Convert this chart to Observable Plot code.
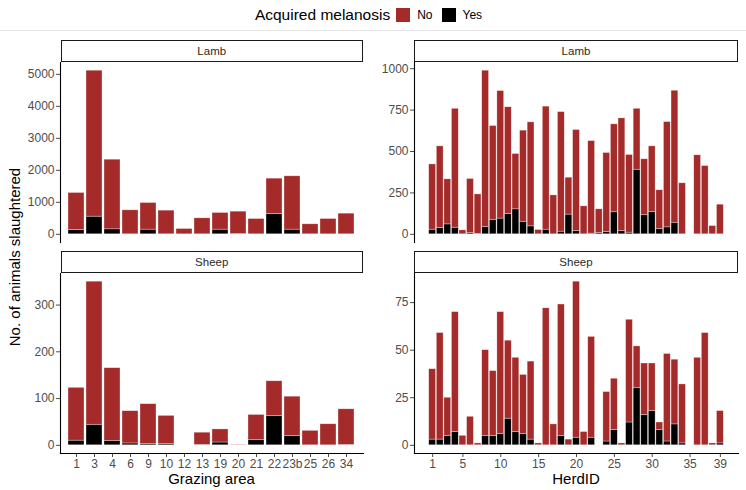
<!DOCTYPE html>
<html><head><meta charset="utf-8">
<script src="https://cdn.jsdelivr.net/npm/d3@7"></script>
<script src="https://cdn.jsdelivr.net/npm/@observablehq/plot@0.6"></script>
<style>
body{margin:0;background:#fff;font-family:"Liberation Sans",Arial,Helvetica,sans-serif;}
#wrap{position:relative;width:746px;height:490px;overflow:hidden;background:#fff;}
.strip{position:absolute;box-sizing:border-box;border:1.3px solid #1a1a1a;background:#fff;font-size:11.5px;font-weight:400;color:#2a2a2a;display:flex;align-items:center;justify-content:center;}
#legend{position:absolute;left:0;top:0;width:746px;height:30px;border-bottom:1px solid #e4e4e4;display:flex;align-items:center;justify-content:center;}
#legend .title{font-size:15.5px;color:#000;margin-right:6px;}
#legend .sw{width:14px;height:14px;display:inline-block;margin-right:7px;}
#legend .lab{font-size:12px;color:#000;margin-right:9px;}
.xtitle{position:absolute;font-size:15px;color:#000;line-height:1;text-align:center;}
#ytitle{position:absolute;font-size:15px;color:#000;line-height:1;white-space:nowrap;transform:translate(-50%,-50%) rotate(-90deg);left:14px;top:257px;}
</style></head>
<body>
<div id="wrap">
  <div id="legend"><span class="title">Acquired melanosis</span><span class="sw" style="background:#A52A2A"></span><span class="lab">No</span><span class="sw" style="background:#000"></span><span class="lab">Yes</span></div>
  <div id="ytitle">No. of animals slaughtered</div>
</div>
<script>
// ---- data ----
const grazingAreas = ["1","3","4","6","9","10","12","13","19","20","21","22","23b","25","26","34"];
const lambGrazingNo  = [1157,4563,2177,750,833,740,167,500,521,700,479,1105,1667,313,479,646];
const lambGrazingYes = [135,552,156,0,146,0,0,0,146,8,0,635,146,0,0,0];
const sheepGrazingNo  = [113,306,156,69,85,60,0,26,28,1,54,74,84,31,45,76];
const sheepGrazingYes = [10,44,9,4,3,3,0,1,6,0,11,63,20,0,0,1];

const herdIds = d3.range(1, 40);
const lambHerdNo  = [394,493,272,718,24,326,238,944,566,770,644,334,550,628,26,743,235,722,223,610,169,559,143,477,531,680,469,368,338,396,234,636,797,308,0,477,412,50,179];
const lambHerdYes = [28,38,60,40,0,8,3,44,88,95,123,151,76,48,0,28,0,16,119,20,0,4,8,14,133,20,10,390,115,135,32,42,70,0,0,0,0,0,0];
const sheepHerdNo  = [37,56,20,63,5,15,1,45,34,64,41,39,31,41,1,72,11,69,3,82,7,53,0,26,27,1,54,22,27,25,4,46,34,31,0,46,59,1,17];
const sheepHerdYes = [3,3,5,7,0,0,0,5,5,6,14,7,6,3,0,0,0,5,0,4,0,4,0,2,8,0,12,30,16,18,8,2,11,1,0,0,0,0,1];

const lambTicksLeft = [0,1000,2000,3000,4000,5000];
const sheepTicksLeft = [0,100,200,300];
const lambTicksRight = [0,250,500,750,1000];
const sheepTicksRight = [0,25,50,75];
const herdTicks = [1,5,10,15,20,25,30,35,39];

const statusDomain = ["No","Yes"];
const statusColors = ["#A52A2A","#000000"];

// ---- helpers ----
function rows(keys, yes, no) {
  const out = [];
  keys.forEach((k, i) => {
    out.push({k, status: "Yes", n: yes[i]});
    out.push({k, status: "No", n: no[i]});
  });
  return out;
}
function totalsMax(yes, no) { return d3.max(yes.map((v, i) => v + no[i])); }

const wrap = document.getElementById("wrap");
const font = '"Liberation Sans",Arial,Helvetica,sans-serif';

function place(el, left, top) {
  el.style.position = "absolute";
  el.style.left = left + "px";
  el.style.top = top + "px";
  wrap.appendChild(el);
}
function strip(label, left, top, width) {
  const d = document.createElement("div");
  d.className = "strip";
  d.style.left = left + "px"; d.style.top = top + "px";
  d.style.width = width + "px"; d.style.height = "22px";
  d.textContent = label;
  wrap.appendChild(d);
}

function panel({kind, keys, yes, no, ticks, bottom, left, top, width, marginLeft}) {
  const max = totalsMax(yes, no);
  const data = rows(keys, yes, no).filter(d => d.n > 0);
  const plotH = 180;
  const marginTop = 6;
  const marginBottom = bottom ? 30 : 4;
  const marks = [];
  let xOpts;
  if (kind === "band") {
    xOpts = {type: "band", domain: keys, paddingInner: 0.1, paddingOuter: 0.15, axis: null};
    marks.push(Plot.barY(data, {x: "k", y: "n", fill: "status", stroke: "#fff", strokeOpacity: 0.55, strokeWidth: 0.6}));
    if (bottom) marks.push(Plot.axisX({tickSize: 4, tickPadding: 2, label: null}));
  } else {
    const lo = 0.55, hi = 39.45, ex = (hi - lo) * 0.05;
    xOpts = {type: "linear", domain: [lo - ex, hi + ex], axis: null};
    marks.push(Plot.rectY(data, {x1: d => d.k - 0.45, x2: d => d.k + 0.45, y: "n", fill: "status", stroke: "#fff", strokeOpacity: 0.55, strokeWidth: 0.6}));
    if (bottom) marks.push(Plot.axisX({ticks: herdTicks, tickFormat: d => String(d), tickSize: 4, tickPadding: 2, label: null}));
  }
  marks.push(Plot.axisY({ticks, tickFormat: d => String(d), tickSize: 4, tickPadding: 2, label: null}));
  marks.push(Plot.frame({anchor: "left", stroke: "#000", strokeWidth: 1.1}));
  if (bottom) marks.push(Plot.frame({anchor: "bottom", stroke: "#000", strokeWidth: 1.1}));
  const chart = Plot.plot({
    width, height: marginTop + plotH + marginBottom,
    marginLeft, marginRight: 2, marginTop, marginBottom,
    style: {fontSize: "12px", fontFamily: font, color: "#4D4D4D", background: "transparent", overflow: "visible"},
    x: xOpts,
    y: {domain: [-0.05 * max, 1.05 * max], axis: null},
    color: {domain: statusDomain, range: statusColors},
    marks
  });
  place(chart, left, top - marginTop);
}

// layout: left panels x 60..363, right panels 414..738
panel({kind: "band", keys: grazingAreas, yes: lambGrazingYes, no: lambGrazingNo, ticks: lambTicksLeft, bottom: false, left: 0, top: 61.5, width: 365, marginLeft: 60});
panel({kind: "band", keys: grazingAreas, yes: sheepGrazingYes, no: sheepGrazingNo, ticks: sheepTicksLeft, bottom: true, left: 0, top: 272.5, width: 365, marginLeft: 60});
panel({kind: "linear", keys: herdIds, yes: lambHerdYes, no: lambHerdNo, ticks: lambTicksRight, bottom: false, left: 360, top: 61.5, width: 380, marginLeft: 54});
panel({kind: "linear", keys: herdIds, yes: sheepHerdYes, no: sheepHerdNo, ticks: sheepTicksRight, bottom: true, left: 360, top: 272.5, width: 380, marginLeft: 54});

strip("Lamb", 60.5, 40, 302.5);
strip("Sheep", 60.5, 251, 302.5);
strip("Lamb", 414, 40, 324);
strip("Sheep", 414, 251, 324);

function xtitle(text, cx) {
  const d = document.createElement("div");
  d.className = "xtitle";
  d.textContent = text;
  d.style.left = (cx - 100) + "px"; d.style.width = "200px"; d.style.top = "471px";
  wrap.appendChild(d);
}
xtitle("Grazing area", 211.5);
xtitle("HerdID", 576);
</script>
</body></html>
